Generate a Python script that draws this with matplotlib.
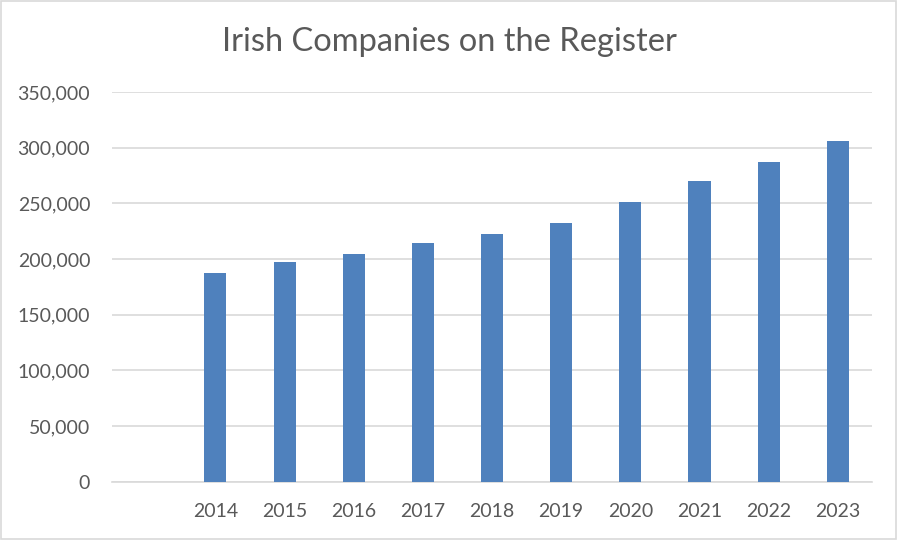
import matplotlib
matplotlib.use("Agg")
import matplotlib.pyplot as plt
from matplotlib.ticker import FuncFormatter, MultipleLocator
from matplotlib.patches import Rectangle

years = ["2014", "2015", "2016", "2017", "2018", "2019", "2020", "2021", "2022", "2023"]
companies = [187200, 197600, 204200, 214100, 222500, 232300, 250900, 270100, 287100, 306000]
title = "Irish Companies on the Register"

plt.rcParams["font.family"] = ["Lato", "DejaVu Sans"]
text_color = "#595959"
grid_color = "#D9D9D9"
bar_color = "#4F81BD"

fig = plt.figure(figsize=(8.98, 5.40), dpi=100)
ax = fig.add_axes([0.1244, 0.108, 0.847, 0.7216])

x = list(range(len(years)))
ax.bar(x, companies, width=0.32, color=bar_color, zorder=3)

ax.set_xlim(-1.5, len(years) - 0.5)
ax.set_ylim(0, 350000)
ax.yaxis.set_major_locator(MultipleLocator(50000))
ax.yaxis.set_major_formatter(FuncFormatter(lambda v, p: f"{int(v):,}"))
ax.set_xticks(x)
ax.set_xticklabels(years)

ax.grid(axis="y", color=grid_color, linewidth=1.2, zorder=0)
for s in ["top", "right", "left"]:
    ax.spines[s].set_visible(False)
ax.spines["bottom"].set_color(grid_color)
ax.spines["bottom"].set_linewidth(1.2)
ax.tick_params(axis="both", length=0, labelsize=14, colors=text_color)
ax.tick_params(axis="y", pad=15.5)
ax.tick_params(axis="x", pad=15)

fig.text(0.5, 0.922, title, ha="center", va="center", fontsize=23.5, color=text_color)

fig.patches.append(Rectangle((0.001, 0.002), 0.997, 0.996, transform=fig.transFigure,
                             fill=False, edgecolor=grid_color, linewidth=1.2))

fig.savefig("out.png", dpi=100)
